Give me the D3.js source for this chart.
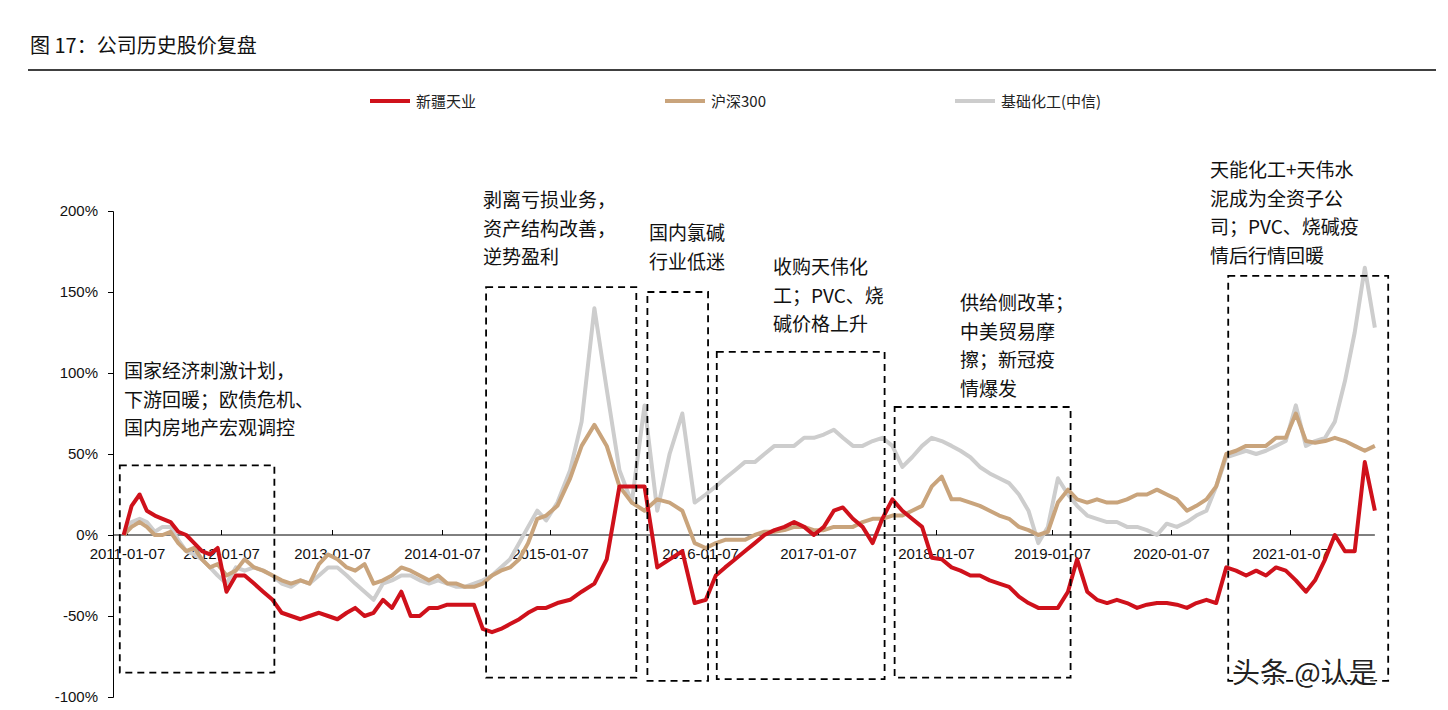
<!DOCTYPE html>
<html><head><meta charset="utf-8">
<script src="https://cdn.jsdelivr.net/npm/d3@7"></script>
<style>body{margin:0;background:#fff}svg{display:block}text{font-family:"Noto Sans CJK SC",sans-serif}</style>
</head><body><svg id="c" width="1448" height="710"></svg>
<script>
const seriesNames = ["新疆天业","沪深300","基础化工(中信)"];
const seriesColors = ["#cf111b","#c9a47c","#cdcdcd"];
const xTickLabels = ["2011-01-07","2012-01-07","2013-01-07","2014-01-07","2015-01-07","2016-01-07","2017-01-07","2018-01-07","2019-01-07","2020-01-07","2021-01-07"];
const yTickValues = [-100,-50,0,50,100,150,200];
// monthly values 2011-01 .. 2021-10
const xinjiang = [
 0,18,25,15,12,10,8,2,0,-5,-10,-12,
 -8,-35,-25,-25,-30,-35,-40,-48,-50,-52,-50,-48,
 -50,-52,-48,-45,-50,-48,-40,-45,-35,-50,-50,-45,
 -45,-43,-43,-43,-43,-58,-60,-58,-55,-52,-48,-45,
 -45,-42,-40,-35,-30,-15,30,30,30,-20,-15,-10,
 -42,-40,-25,-20,-15,-10,-5,0,3,5,8,5,
 0,5,15,17,10,5,-5,10,22,15,10,5,
 -14,-15,-20,-22,-25,-25,-28,-30,-32,-38,-42,-45,
 -45,-45,-35,-15,-35,-40,-42,-40,-42,-45,-43,-42,
 -42,-43,-45,-42,-40,-42,-20,-22,-25,-22,-25,-20,
 -22,-28,-35,-28,-15,0,-10,-10,45,15];
const hs300 = [
 0,5,8,5,0,0,2,-5,-10,-8,-15,-20,
 -18,-25,-22,-15,-20,-22,-25,-28,-30,-28,-30,-18,
 -12,-15,-20,-22,-18,-30,-28,-25,-20,-22,-25,-28,
 -25,-30,-30,-32,-32,-30,-25,-22,-20,-15,-5,10,
 12,18,35,55,68,55,30,20,15,22,20,15,
 -5,-8,-5,-3,-3,-3,0,2,2,3,5,5,
 3,3,5,5,5,8,10,10,12,12,15,18,
 30,36,22,22,20,18,15,12,10,5,3,0,
 2,20,28,22,20,22,20,20,22,25,25,28,
 25,22,15,18,22,30,50,52,55,55,55,60,
 60,75,58,57,58,60,58,55,52,55];
const chem = [
 0,8,10,8,2,5,5,-3,-10,-12,-15,-20,
 -25,-30,-20,-22,-20,-22,-25,-30,-32,-28,-30,-25,
 -20,-20,-25,-30,-35,-40,-30,-28,-25,-25,-28,-30,
 -28,-30,-32,-32,-30,-28,-25,-20,-15,-5,5,15,
 9,20,40,70,140,90,40,20,80,15,50,75,
 20,25,30,35,40,45,45,50,55,55,55,60,
 60,62,65,60,55,55,58,60,55,42,48,55,
 60,58,55,52,48,42,38,35,32,25,15,-5,
 5,35,25,18,12,10,8,8,5,5,3,0,
 7,5,8,12,15,30,48,50,52,50,52,55,
 58,80,55,58,60,70,95,125,165,128];
const boxes = [
 {from:"2010-12-10",to:"2012-07-01",top:43,bottom:-85},
 {from:"2014-06-05",to:"2015-08-05",top:153,bottom:-88},
 {from:"2015-09-01",to:"2016-02-01",top:150,bottom:-90},
 {from:"2016-02-28",to:"2017-08-01",top:113,bottom:-89},
 {from:"2017-09-01",to:"2019-03-05",top:79,bottom:-88},
 {from:"2020-07-01",to:"2021-11-05",top:160,bottom:-90}];
const notes = [
 {x:124,y:378,lines:["国家经济刺激计划，","下游回暖；欧债危机、","国内房地产宏观调控"]},
 {x:483,y:207,lines:["剥离亏损业务，","资产结构改善，","逆势盈利"]},
 {x:649,y:240,lines:["国内氯碱","行业低迷"]},
 {x:773,y:274,lines:["收购天伟化","工；PVC、烧","碱价格上升"]},
 {x:960,y:310,lines:["供给侧改革；","中美贸易摩","擦；新冠疫","情爆发"]},
 {x:1210,y:177,lines:["天能化工+天伟水","泥成为全资子公","司；PVC、烧碱疫","情后行情回暖"]}];

const svg = d3.select("#c");
const tickDates = xTickLabels.map(s=>new Date(s));
const tickPx = [127,221,332,442,550,700,818,936,1052,1171,1290];
const x = d3.scaleTime().domain(tickDates).range(tickPx);
const y = d3.scaleLinear().domain([-100,200]).range([697,211]);
const months = d3.range(xinjiang.length).map(i=>new Date(2011, i-1, 25));

svg.append("text").attr("x",30).attr("y",53).attr("font-size",20).attr("fill","#111").text("图 17：公司历史股价复盘");
svg.append("line").attr("x1",28).attr("x2",1436).attr("y1",70).attr("y2",70).attr("stroke","#000").attr("stroke-width",1.5);

const legX=[370,665,955];
seriesNames.forEach((n,i)=>{
  svg.append("line").attr("x1",legX[i]).attr("x2",legX[i]+40).attr("y1",101).attr("y2",101).attr("stroke",seriesColors[i]).attr("stroke-width",4);
  svg.append("text").attr("x",legX[i]+46).attr("y",107).attr("font-size",15).attr("fill","#222").text(n);
});

const yAx = svg.append("g").attr("transform","translate(113,0)")
  .call(d3.axisLeft(y).tickValues(yTickValues).tickFormat(d=>d+"%").tickSize(5).tickPadding(10));
yAx.selectAll("text").attr("font-size",15).attr("fill","#111").style("font-family","Arial,'Liberation Sans',sans-serif");
yAx.select(".domain").attr("stroke","#000");
const xAx = svg.append("g").attr("transform",`translate(0,${y(0)})`)
  .call(d3.axisBottom(x).tickValues(tickDates).tickFormat((d,i)=>xTickLabels[i]).tickSize(-5).tickPadding(10).tickSizeOuter(0));
xAx.select(".domain").attr("d",`M113,0H${x(months[months.length-1])}`).attr("stroke","#000");
xAx.selectAll("text").attr("font-size",15).attr("fill","#111").attr("dy","0.9em").style("font-family","Arial,'Liberation Sans',sans-serif");
xAx.selectAll(".tick line").attr("y2",-5).attr("stroke","#000");

const line = d3.line().x((d,i)=>x(months[i])).y(d=>y(d)).curve(d3.curveLinear);
[[chem,2],[hs300,1],[xinjiang,0]].forEach(([arr,i])=>{
  svg.append("path").datum(arr).attr("d",line).attr("fill","none").attr("stroke",seriesColors[i]).attr("stroke-width",4).attr("stroke-linejoin","round");
});

boxes.forEach(b=>{
  const x0=x(new Date(b.from)),x1=x(new Date(b.to));
  svg.append("rect").attr("x",x0).attr("y",y(b.top)).attr("width",x1-x0).attr("height",y(b.bottom)-y(b.top))
    .attr("fill","none").attr("stroke","#000").attr("stroke-width",1.8).attr("stroke-dasharray","7,5");
});

notes.forEach(n=>{
  const t=svg.append("text").attr("font-size",19).attr("fill","#111");
  n.lines.forEach((l,i)=>t.append("tspan").attr("x",n.x).attr("y",n.y+i*28.5).text(l));
});

svg.append("text").attr("x",1232).attr("y",683).attr("font-size",28).attr("fill","#222")
  .attr("stroke","#fff").attr("stroke-width",3).attr("paint-order","stroke").text("头条 @认是");
</script></body></html>
